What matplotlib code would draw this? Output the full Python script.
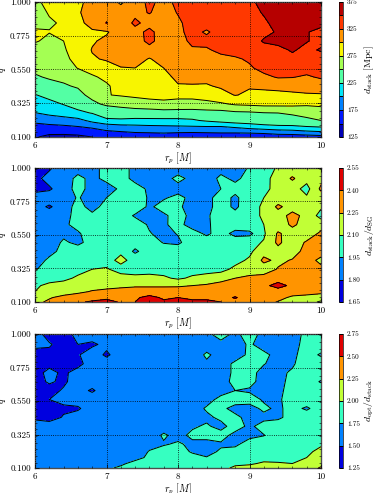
#!/usr/bin/env python3
"""Three filled contour panels of stacked search distance over r_p and q."""

import matplotlib

matplotlib.use("Agg")
import matplotlib.pyplot as plt
from matplotlib.ticker import MultipleLocator

plt.rcParams["font.family"] = "cmr10"
plt.rcParams["mathtext.fontset"] = "cm"
plt.rcParams["axes.unicode_minus"] = False
plt.rcParams["axes.formatter.use_mathtext"] = True

rp = [6.0, 6.2, 6.4, 6.6, 6.8, 7.0, 7.2, 7.4, 7.6, 7.8, 8.0,
      8.2, 8.4, 8.6, 8.8, 9.0, 9.2, 9.4, 9.6, 9.8, 10.0]
q = [1.00, 0.93, 0.86, 0.80, 0.74, 0.68, 0.62, 0.56, 0.50,
     0.44, 0.38, 0.32, 0.26, 0.21, 0.17, 0.13, 0.10]

x_ticks = [6, 7, 8, 9, 10]
y_ticks = [0.1, 0.325, 0.55, 0.775, 1.0]
y_labels = ["0.100", "0.325", "0.550", "0.775", "1.000"]

d_stack = [
    [268, 285, 292, 296, 306, 312, 296, 314, 330, 318, 330, 336, 340, 342, 342, 346, 356, 358, 360, 360, 358],
    [265, 277, 294, 298, 308, 318, 312, 320, 326, 318, 326, 336, 340, 340, 342, 346, 351, 356, 358, 354, 356],
    [266, 272, 278, 296, 305, 326, 312, 329, 318, 316, 322, 332, 335, 338, 330, 345, 348, 354, 358, 352, 355],
    [280, 276, 282, 294, 298, 298, 310, 318, 330, 315, 320, 332, 322, 335, 338, 342, 345, 352, 358, 351, 345],
    [278, 268, 275, 292, 298, 304, 308, 316, 330, 316, 316, 330, 332, 336, 335, 340, 352, 355, 352, 351, 345],
    [262, 264, 272, 288, 301, 306, 310, 312, 318, 312, 322, 322, 322, 331, 334, 338, 342, 345, 352, 345, 352],
    [258, 258, 268, 284, 298, 302, 308, 312, 298, 312, 316, 318, 320, 318, 322, 328, 335, 340, 345, 340, 340],
    [254, 252, 262, 276, 284, 292, 299, 300, 290, 300, 312, 314, 316, 320, 318, 322, 332, 334, 336, 334, 332],
    [248, 252, 254, 258, 272, 280, 300, 294, 290, 296, 303, 308, 306, 310, 312, 315, 320, 327, 326, 322, 328],
    [238, 244, 248, 252, 258, 272, 284, 290, 284, 288, 299, 298, 298, 303, 304, 302, 306, 308, 310, 308, 312],
    [224, 231, 236, 244, 256, 274, 277, 280, 284, 284, 282, 283, 286, 292, 301, 296, 292, 293, 295, 298, 298],
    [212, 219, 226, 234, 245, 254, 258, 262, 264, 268, 266, 265, 268, 272, 278, 280, 282, 282, 282, 280, 283],
    [199, 206, 213, 220, 226, 233, 236, 238, 239, 240, 240, 240, 241, 241, 245, 246, 249, 250, 251, 253, 256],
    [182, 185, 187, 192, 207, 222, 222, 220, 220, 220, 220, 222, 228, 234, 239, 240, 244, 247, 247, 248, 250],
    [166, 170, 172, 175, 180, 186, 192, 194, 196, 197, 198, 199, 200, 200, 205, 212, 217, 220, 221, 225, 228],
    [160, 155, 156, 158, 162, 170, 172, 175, 176, 178, 176, 175, 176, 177, 177, 178, 180, 185, 187, 192, 195],
    [152, 144, 142, 144, 150, 155, 158, 158, 158, 155, 152, 153, 155, 156, 156, 156, 158, 160, 160, 162, 165],
]

ratio_sg = [
    [1.72, 1.78, 1.88, 1.90, 1.92, 1.98, 2.02, 1.90, 1.88, 1.86, 1.85, 1.90, 1.88, 1.90, 1.90, 1.96, 2.02, 2.12, 2.15, 2.15, 2.16],
    [1.76, 1.85, 1.89, 1.98, 1.92, 1.98, 2.02, 1.90, 1.88, 1.88, 2.00, 1.90, 1.88, 1.98, 1.92, 2.00, 2.06, 2.15, 2.27, 2.15, 2.20],
    [1.76, 1.78, 1.88, 2.00, 1.90, 1.90, 1.97, 2.02, 1.92, 1.90, 1.88, 1.92, 1.90, 1.95, 2.00, 2.03, 2.07, 2.14, 2.16, 2.05, 2.28],
    [1.86, 1.88, 1.89, 1.96, 1.90, 1.95, 2.02, 2.04, 1.93, 1.93, 2.00, 1.90, 1.90, 2.02, 1.92, 2.04, 2.10, 2.16, 2.16, 2.12, 2.16],
    [1.86, 1.78, 1.88, 2.00, 1.90, 2.00, 2.02, 2.05, 1.92, 2.02, 1.98, 1.88, 1.90, 2.02, 1.92, 2.05, 2.12, 2.28, 2.18, 2.15, 2.12],
    [1.86, 1.88, 1.90, 2.00, 1.98, 2.02, 2.04, 1.93, 1.92, 1.92, 2.02, 1.90, 1.92, 2.05, 2.00, 2.05, 2.12, 2.18, 2.30, 2.20, 2.05],
    [1.86, 1.88, 1.92, 2.00, 2.03, 2.04, 2.04, 2.03, 1.93, 1.93, 2.00, 1.88, 1.92, 2.03, 2.04, 2.06, 2.10, 2.16, 2.28, 2.18, 2.18],
    [1.80, 1.88, 1.92, 1.93, 2.03, 2.05, 2.06, 2.04, 1.96, 1.90, 1.96, 2.02, 1.92, 2.02, 1.90, 1.91, 2.08, 2.27, 2.18, 2.16, 2.28],
    [1.85, 1.88, 1.97, 1.92, 2.00, 2.05, 2.00, 2.02, 2.02, 1.94, 1.92, 2.04, 2.04, 2.05, 2.05, 2.06, 2.11, 2.28, 2.16, 2.27, 2.30],
    [1.86, 1.92, 1.98, 2.02, 2.03, 2.05, 2.08, 1.92, 2.04, 2.04, 2.04, 2.05, 2.05, 2.05, 2.05, 2.07, 2.20, 2.20, 2.19, 2.30, 2.30],
    [1.90, 1.97, 2.02, 2.04, 2.05, 2.06, 2.13, 2.06, 2.04, 1.95, 2.04, 2.05, 2.05, 2.05, 2.06, 2.12, 2.28, 2.22, 2.26, 2.30, 2.22],
    [1.94, 2.00, 2.02, 2.06, 2.10, 2.11, 2.06, 2.05, 2.05, 2.05, 2.04, 2.05, 2.05, 2.06, 2.13, 2.18, 2.18, 2.26, 2.30, 2.32, 2.28],
    [2.02, 2.05, 2.07, 2.12, 2.14, 2.16, 2.14, 2.13, 2.14, 2.12, 2.08, 2.12, 2.15, 2.18, 2.25, 2.28, 2.30, 2.32, 2.34, 2.32, 2.32],
    [2.08, 2.13, 2.15, 2.17, 2.20, 2.21, 2.22, 2.23, 2.23, 2.23, 2.23, 2.25, 2.27, 2.32, 2.34, 2.34, 2.36, 2.46, 2.36, 2.34, 2.28],
    [2.10, 2.16, 2.20, 2.22, 2.26, 2.28, 2.30, 2.32, 2.32, 2.32, 2.33, 2.34, 2.36, 2.36, 2.34, 2.34, 2.34, 2.32, 2.33, 2.34, 2.30],
    [2.14, 2.24, 2.28, 2.32, 2.34, 2.36, 2.36, 2.38, 2.44, 2.38, 2.40, 2.38, 2.38, 2.36, 2.41, 2.34, 2.32, 2.30, 2.22, 2.18, 2.16],
    [2.22, 2.27, 2.34, 2.38, 2.42, 2.46, 2.38, 2.40, 2.45, 2.42, 2.44, 2.42, 2.42, 2.40, 2.36, 2.32, 2.30, 2.24, 2.20, 2.15, 2.08],
]

ratio_opt = [
    [1.58, 1.42, 1.42, 1.56, 1.62, 1.62, 1.62, 1.62, 1.62, 1.62, 1.62, 1.65, 1.70, 1.85, 1.70, 1.85, 1.68, 1.68, 1.70, 1.78, 1.85],
    [1.55, 1.52, 1.42, 1.50, 1.46, 1.56, 1.62, 1.62, 1.62, 1.62, 1.62, 1.64, 1.66, 1.68, 1.66, 1.78, 1.66, 1.66, 1.70, 1.80, 1.88],
    [1.42, 1.45, 1.42, 1.48, 1.62, 1.46, 1.62, 1.62, 1.62, 1.62, 1.72, 1.64, 1.78, 1.68, 1.68, 1.78, 1.80, 1.68, 1.70, 1.85, 1.72],
    [1.42, 1.44, 1.42, 1.44, 1.60, 1.62, 1.62, 1.62, 1.62, 1.62, 1.63, 1.64, 1.72, 1.68, 1.78, 1.82, 1.76, 1.68, 1.72, 1.88, 1.92],
    [1.42, 1.56, 1.46, 1.58, 1.60, 1.62, 1.62, 1.62, 1.62, 1.62, 1.63, 1.64, 1.66, 1.68, 1.78, 1.82, 1.68, 1.70, 1.78, 1.92, 1.92],
    [1.44, 1.52, 1.47, 1.58, 1.60, 1.62, 1.62, 1.62, 1.62, 1.62, 1.63, 1.64, 1.66, 1.68, 1.80, 1.82, 1.66, 1.70, 1.80, 1.92, 1.72],
    [1.42, 1.44, 1.52, 1.58, 1.47, 1.62, 1.62, 1.62, 1.62, 1.62, 1.62, 1.64, 1.74, 1.66, 1.75, 1.72, 1.68, 1.72, 1.80, 1.95, 1.95],
    [1.50, 1.50, 1.56, 1.60, 1.62, 1.62, 1.62, 1.62, 1.62, 1.62, 1.62, 1.63, 1.66, 1.82, 1.85, 1.85, 1.72, 1.72, 1.84, 1.95, 1.95],
    [1.44, 1.40, 1.46, 1.47, 1.62, 1.62, 1.62, 1.62, 1.62, 1.62, 1.62, 1.63, 1.78, 1.80, 1.68, 1.66, 1.80, 1.70, 1.85, 1.70, 1.92],
    [1.46, 1.40, 1.52, 1.60, 1.62, 1.62, 1.62, 1.62, 1.62, 1.62, 1.62, 1.64, 1.70, 1.80, 1.80, 1.68, 1.68, 1.70, 1.85, 1.95, 1.96],
    [1.60, 1.62, 1.62, 1.62, 1.62, 1.62, 1.62, 1.62, 1.62, 1.65, 1.72, 1.72, 1.78, 1.68, 1.85, 1.70, 1.85, 1.90, 1.95, 1.96, 1.96],
    [1.58, 1.62, 1.62, 1.62, 1.62, 1.62, 1.62, 1.62, 1.64, 1.78, 1.68, 1.80, 1.84, 1.84, 1.68, 1.68, 1.74, 1.88, 1.92, 1.95, 1.96],
    [1.60, 1.62, 1.62, 1.62, 1.62, 1.62, 1.62, 1.65, 1.70, 1.73, 1.78, 1.70, 1.66, 1.72, 1.70, 1.86, 1.88, 1.90, 1.92, 1.95, 1.98],
    [1.60, 1.62, 1.62, 1.62, 1.62, 1.62, 1.63, 1.66, 1.76, 1.84, 1.86, 1.72, 1.68, 1.78, 1.84, 1.88, 1.90, 1.92, 1.94, 1.97, 2.04],
    [1.60, 1.62, 1.62, 1.62, 1.63, 1.65, 1.68, 1.70, 1.78, 1.86, 1.88, 1.84, 1.76, 1.86, 1.90, 1.93, 1.95, 1.96, 1.97, 2.00, 2.10],
    [1.60, 1.62, 1.62, 1.63, 1.65, 1.68, 1.72, 1.80, 1.85, 1.88, 1.88, 1.90, 1.90, 1.92, 1.97, 1.98, 2.02, 2.01, 2.00, 2.03, 2.18],
    [1.60, 1.62, 1.63, 1.65, 1.68, 1.72, 1.78, 1.82, 1.86, 1.88, 1.88, 1.90, 1.92, 1.95, 2.03, 2.05, 2.08, 2.07, 2.08, 2.12, 2.28],
]

levels_stack = [125, 150, 175, 200, 225, 250, 275, 300, 325, 350, 375]
levels_sg = [1.65, 1.80, 1.95, 2.10, 2.25, 2.40, 2.55]
levels_opt = [1.25, 1.50, 1.75, 2.00, 2.25, 2.50, 2.75]

cbar_ticks_stack = [125, 175, 225, 275, 325, 375]
cbar_labels_stack = ["125", "175", "225", "275", "325", "375"]
cbar_labels_sg = ["1.65", "1.80", "1.95", "2.10", "2.25", "2.40", "2.55"]
cbar_labels_opt = ["1.25", "1.50", "1.75", "2.00", "2.25", "2.50", "2.75"]

W, H = 374, 493


def draw_panel(top, bottom, z, levels, ticks, tick_labels, label):
    ax = fig.add_axes([35 / W, 1 - bottom / H, 286 / W, (bottom - top) / H])
    cax = fig.add_axes([339 / W, 1 - bottom / H, 4 / W, (bottom - top) / H])

    filled = ax.contourf(rp, q, z, levels=levels, cmap="jet")
    lines = ax.contour(rp, q, z, levels=levels, colors="k", linewidths=0.7, linestyles="solid")

    ax.set_xlim(6, 10)
    ax.set_ylim(0.1, 1.0)
    ax.set_xticks(x_ticks)
    ax.set_xticklabels([str(v) for v in x_ticks])
    ax.set_yticks(y_ticks)
    ax.set_yticklabels(y_labels)
    ax.xaxis.set_minor_locator(MultipleLocator(0.2))
    ax.yaxis.set_minor_locator(MultipleLocator(0.045))
    ax.tick_params(which="major", direction="in", top=True, right=True, labelsize=6.5, pad=3, length=3, width=0.5)
    ax.tick_params(which="minor", direction="in", top=True, right=True, length=1.5, width=0.4)
    ax.grid(True, color="k", linestyle=":", linewidth=0.6)
    ax.set_axisbelow(False)
    ax.set_xlabel(r"$r_p\ [M]$", fontsize=7.2, labelpad=1)
    ax.yaxis.set_label_coords((8 - 35) / 286, 0.5)
    ax.set_ylabel(r"$q$", fontsize=7.2)
    for spine in ax.spines.values():
        spine.set_linewidth(1.0)
        spine.set_color("0.3")

    cbar = fig.colorbar(filled, cax=cax, ticks=ticks)
    cbar.add_lines(lines)
    cbar.ax.set_yticklabels(tick_labels)
    cbar.ax.tick_params(labelsize=5.2, length=1.5, width=0.4, pad=3, direction="in")
    cbar.ax.yaxis.set_label_coords((363 - 339) / 4, 0.5)
    cbar.set_label(label, fontsize=7)
    cbar.outline.set_linewidth(0.5)


fig = plt.figure(figsize=(W / 100, H / 100), dpi=100)

draw_panel(2, 137, d_stack, levels_stack, cbar_ticks_stack, cbar_labels_stack,
           r"$d_{\mathrm{stack}}\ [\mathrm{Mpc}]$")
draw_panel(168, 302, ratio_sg, levels_sg, levels_sg, cbar_labels_sg,
           r"$d_{\mathrm{stack}}/d_{\mathrm{SG}}$")
draw_panel(334, 468, ratio_opt, levels_opt, levels_opt, cbar_labels_opt,
           r"$d_{\mathrm{opt}}/d_{\mathrm{stack}}$")

fig.savefig("out.png", dpi=100)
plt.close(fig)
